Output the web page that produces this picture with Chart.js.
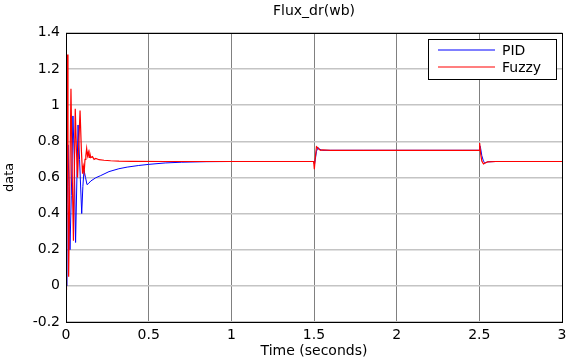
<!DOCTYPE html>
<html>
<head>
<meta charset="utf-8">
<script src="https://cdn.jsdelivr.net/npm/chart.js@4.4.0/dist/chart.umd.min.js"></script>
<style>
  body { margin: 0; background: #fff; }
  canvas { display: block; }
</style>
</head>
<body>
<canvas id="fluxChart" width="567" height="361"></canvas>
<script>
// values
const pidTime = [0, 0.006, 0.012, 0.018, 0.024, 0.032, 0.042, 0.05, 0.058, 0.066,
  0.073, 0.082, 0.095, 0.102, 0.109, 0.118, 0.127, 0.135, 0.15, 0.18,
  0.21, 0.26, 0.32, 0.37, 0.44, 0.5, 0.6, 0.7, 0.85, 1.0,
  1.2, 1.4, 1.498, 1.503, 1.508, 1.515, 1.525, 1.535, 1.55, 1.6,
  1.8, 2.0, 2.2, 2.4, 2.498, 2.503, 2.508, 2.515, 2.525, 2.535,
  2.55, 2.6, 2.8, 3.0];
const pidFlux = [0, 0.45, 0.78, 0.55, 0.2, 0.5, 0.94, 0.7, 0.24, 0.6,
  0.89, 0.7, 0.40, 0.55, 0.64, 0.6, 0.56, 0.565, 0.58, 0.598,
  0.61, 0.632, 0.648, 0.657, 0.666, 0.672, 0.68, 0.684, 0.687, 0.688,
  0.688, 0.688, 0.688, 0.672, 0.70, 0.745, 0.765, 0.755, 0.75, 0.75,
  0.75, 0.75, 0.75, 0.75, 0.75, 0.775, 0.76, 0.72, 0.69, 0.68,
  0.686, 0.688, 0.688, 0.688];

const fuzzyTime = [0, 0.003, 0.008, 0.012, 0.016, 0.022, 0.03, 0.038, 0.045, 0.05, 0.056,
  0.063, 0.07, 0.078, 0.085, 0.093, 0.1, 0.105, 0.11, 0.115, 0.12,
  0.125, 0.13, 0.135, 0.14, 0.145, 0.15, 0.16, 0.17, 0.18, 0.2,
  0.23, 0.27, 0.32, 0.4, 0.6, 1.0, 1.4, 1.498, 1.502, 1.507,
  1.515, 1.522, 1.53, 1.54, 1.55, 1.6, 2.0, 2.4, 2.498, 2.502,
  2.508, 2.515, 2.525, 2.535, 2.55, 2.6, 3.0];
const fuzzyFlux = [-0.02, 0.3, 1.28, 0.6, 0.05, 0.5, 1.09, 0.6, 0.25, 0.6, 0.98,
  0.75, 0.6, 0.8, 0.97, 0.75, 0.62, 0.66, 0.63, 0.7, 0.72,
  0.76, 0.72, 0.74, 0.71, 0.73, 0.71, 0.715, 0.70, 0.705, 0.698,
  0.695, 0.692, 0.69, 0.689, 0.688, 0.688, 0.688, 0.688, 0.645, 0.70,
  0.77, 0.765, 0.755, 0.75, 0.752, 0.75, 0.75, 0.75, 0.75, 0.79,
  0.73, 0.69, 0.675, 0.68, 0.686, 0.688, 0.688];

const seriesNames = ['PID', 'Fuzzy'];
const seriesColors = ['#0000ff', '#ff0000'];
const xTicks = [0, 0.5, 1, 1.5, 2, 2.5, 3];
const yTicks = [-0.2, 0, 0.2, 0.4, 0.6, 0.8, 1, 1.2, 1.4];

const FONT = "'DejaVu Sans', 'Liberation Sans', Arial, sans-serif";

function toPoints(xs, ys) {
  return xs.map((x, i) => ({ x: x, y: ys[i] }));
}

// matlab prints 1 not 1.0
function plainLabel(value) {
  return String(Math.round(value * 10) / 10);
}

// box round the axes + legend in the top right corner (matlab style)
const matlabFrame = {
  id: 'matlabFrame',
  afterDatasetsDraw(chart) {
    const ctx = chart.ctx;
    const a = chart.chartArea;
    ctx.save();
    ctx.strokeStyle = '#000';
    ctx.lineWidth = 1;
    ctx.strokeRect(Math.round(a.left) + 0.5, Math.round(a.top) + 0.5,
      Math.round(a.right - a.left), Math.round(a.bottom - a.top));

    // legend
    const w = 128, h = 40;
    const bx = Math.round(a.right) - w - 6;
    const by = Math.round(a.top) + 6;
    ctx.fillStyle = '#fff';
    ctx.fillRect(bx, by, w, h);
    ctx.strokeRect(bx + 0.5, by + 0.5, w, h);
    ctx.font = '14px ' + FONT;
    ctx.textBaseline = 'middle';
    ctx.lineWidth = 1.2;
    seriesNames.forEach((name, i) => {
      const ly = by + 11 + i * 17;
      ctx.strokeStyle = seriesColors[i];
      ctx.beginPath();
      ctx.moveTo(bx + 10, ly);
      ctx.lineTo(bx + 67, ly);
      ctx.stroke();
      ctx.fillStyle = '#000';
      ctx.fillText(name, bx + 74, ly + 1);
    });
    ctx.restore();
  }
};

const data = {
  datasets: [
    {
      label: seriesNames[0],
      data: toPoints(pidTime, pidFlux),
      borderColor: seriesColors[0],
      borderWidth: 1,
      pointRadius: 0,
      order: 1
    },
    {
      label: seriesNames[1],
      data: toPoints(fuzzyTime, fuzzyFlux),
      borderColor: seriesColors[1],
      borderWidth: 1.2,
      pointRadius: 0,
      order: 0
    }
  ]
};

const config = {
  type: 'line',
  data: data,
  options: {
    responsive: false,
    animation: false,
    layout: { padding: { left: 0, right: 0, top: 0, bottom: 0 } },
    plugins: {
      legend: { display: false },
      tooltip: { enabled: false },
      title: {
        display: true,
        fullSize: false,
        text: 'Flux_dr(wb)',
        color: '#000',
        font: { family: FONT, size: 14, weight: 'normal' },
        padding: { top: 3, bottom: 13 }
      }
    },
    scales: {
      x: {
        type: 'linear',
        min: 0,
        max: 3,
        afterBuildTicks: (scale) => { scale.ticks = xTicks.map(v => ({ value: v })); },
        afterFit: (scale) => {
          scale.height = 39;
          scale.paddingRight = 5;
        },
        grid: { color: '#808080', lineWidth: 1, drawTicks: false },
        border: { display: false },
        ticks: { color: '#000', padding: 5, font: { family: FONT, size: 14 }, callback: plainLabel },
        title: {
          display: true,
          text: 'Time (seconds)',
          color: '#000',
          font: { family: FONT, size: 14 },
          padding: { top: 0, bottom: 1 }
        }
      },
      y: {
        min: -0.2,
        max: 1.4,
        afterBuildTicks: (scale) => { scale.ticks = yTicks.map(v => ({ value: v })); },
        afterFit: (scale) => { scale.width = 66; },
        grid: { color: '#c4c4c4', lineWidth: 1.5, drawTicks: false },
        border: { display: false },
        ticks: { color: '#000', padding: 6, font: { family: FONT, size: 14 }, callback: plainLabel },
        title: {
          display: true,
          text: 'data',
          color: '#000',
          font: { family: FONT, size: 13 },
          padding: { top: 2, bottom: 0 }
        }
      }
    }
  },
  plugins: [matlabFrame]
};

const fluxChart = new Chart(document.getElementById('fluxChart'), config);
</script>
</body>
</html>
